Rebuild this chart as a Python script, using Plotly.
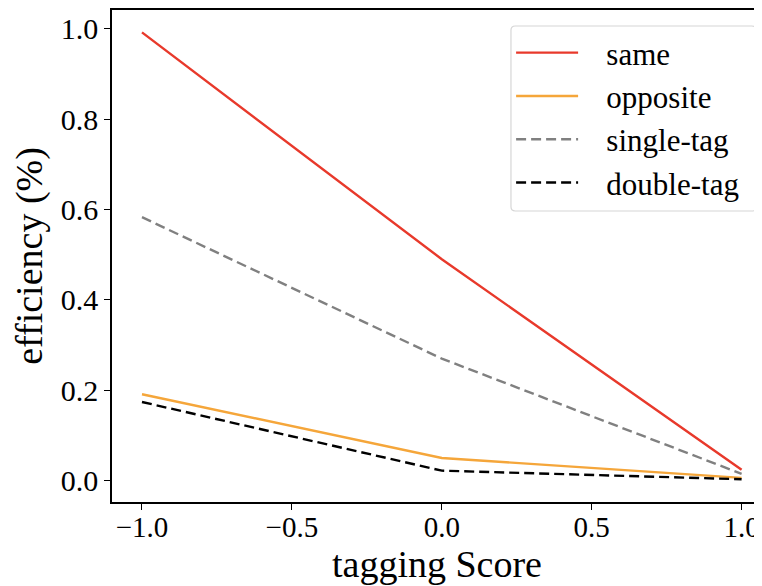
import plotly.graph_objects as go

x_scores = [-1.0, 0.0, 1.0]
same = [0.992, 0.490, 0.024]
opposite = [0.191, 0.050, 0.006]
single_tag = [0.583, 0.270, 0.015]
double_tag = [0.174, 0.022, 0.003]

x_ticks = [-1.0, -0.5, 0.0, 0.5, 1.0]
y_ticks = [0.0, 0.2, 0.4, 0.6, 0.8, 1.0]

FONT = "Liberation Serif"
PAD = "\u00a0\u00a0\u00a0"
END = "\u00a0"
DASH = "10px,5px"

fig = go.Figure()
fig.add_trace(go.Scatter(x=x_scores, y=same, name=PAD + "same" + END, mode="lines",
                         line=dict(color="#e8392b", width=2.4)))
fig.add_trace(go.Scatter(x=x_scores, y=opposite, name=PAD + "opposite" + END, mode="lines",
                         line=dict(color="#f5a63a", width=2.4)))
fig.add_trace(go.Scatter(x=x_scores, y=single_tag, name=PAD + "single-tag" + END, mode="lines",
                         line=dict(color="#808080", width=2.4, dash=DASH)))
fig.add_trace(go.Scatter(x=x_scores, y=double_tag, name=PAD + "double-tag" + END, mode="lines",
                         line=dict(color="#000000", width=2.4, dash=DASH)))

# rounded legend frame (paper coordinates of the plot area)
lx0, lx1, ly0, ly1 = 0.6138, 0.9908, 0.5915, 0.9675
rx, ry = 0.0065, 0.0085
frame = (f"M {lx0+rx},{ly0} L {lx1-rx},{ly0} Q {lx1},{ly0} {lx1},{ly0+ry} "
         f"L {lx1},{ly1-ry} Q {lx1},{ly1} {lx1-rx},{ly1} L {lx0+rx},{ly1} "
         f"Q {lx0},{ly1} {lx0},{ly1-ry} L {lx0},{ly0+ry} Q {lx0},{ly0} {lx0+rx},{ly0} Z")

# page body has an 8px default margin, so the figure is sized to compensate
fig.update_layout(
    width=754, height=578,
    margin=dict(l=104, r=0, t=2, b=84),
    paper_bgcolor="white", plot_bgcolor="white",
    font=dict(family=FONT, size=30, color="black"),
    showlegend=True,
    legend=dict(x=0.614, y=0.9675, xanchor="left", yanchor="top",
                bgcolor="rgba(0,0,0,0)", borderwidth=0,
                font=dict(family=FONT, size=31), itemwidth=62),
    shapes=[dict(type="path", path=frame, xref="paper", yref="paper", layer="above",
                 fillcolor="rgba(255,255,255,0.8)", line=dict(color="#d6d6d6", width=1.2))],
)
fig.update_xaxes(range=[-1.1, 1.068], tickvals=x_ticks, tickformat=".1f", automargin=False,
                 showgrid=False, zeroline=False, showline=True, linecolor="black",
                 linewidth=1.5, mirror=True, ticks="outside", ticklen=6, tickwidth=1.3,
                 tickcolor="black", ticklabelstandoff=-8, tickfont=dict(size=29),
                 title=dict(text="tagging Score", font=dict(family=FONT, size=38), standoff=2))
fig.update_yaxes(range=[-0.0474, 1.0416], tickvals=y_ticks, tickformat=".1f", automargin=False,
                 showgrid=False, zeroline=False, showline=True, linecolor="black",
                 linewidth=1.5, mirror=False, ticks="outside", ticklen=6, tickwidth=1.3,
                 tickcolor="black",
                 title=dict(text="efficiency (%)", font=dict(family=FONT, size=38), standoff=6))

fig.write_html("out.html")
